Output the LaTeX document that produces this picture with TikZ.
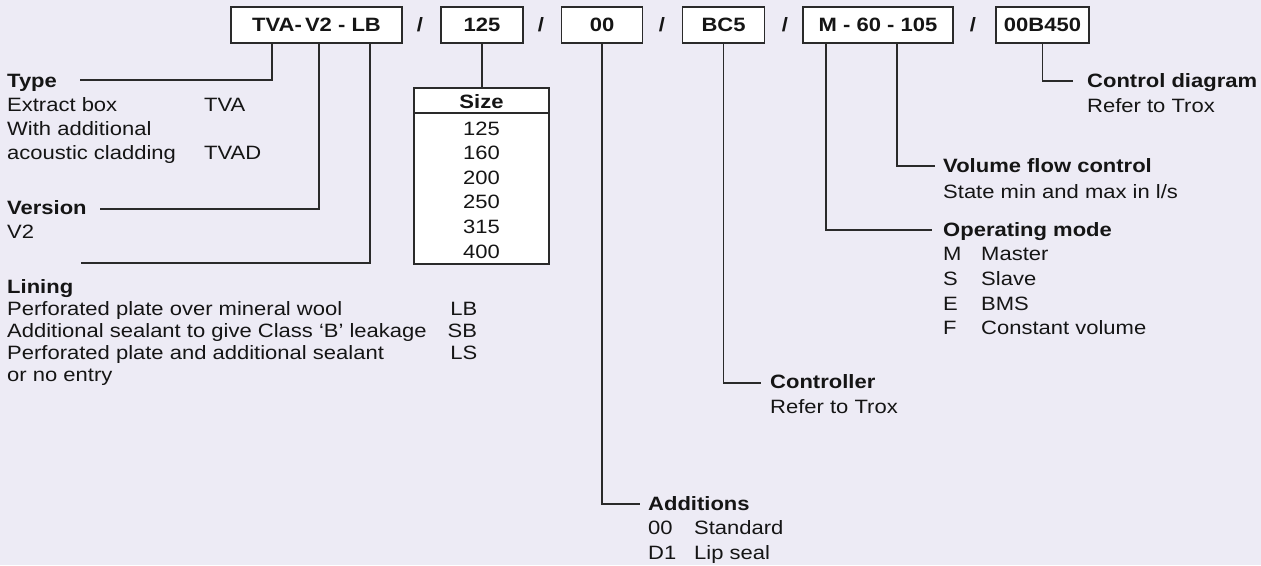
\documentclass[tikz,border=0pt]{standalone}
\usepackage{fontspec}
\setmainfont[FakeStretch=1.14]{Liberation Sans}
\usepackage{array}
\definecolor{bg}{HTML}{EDEBF5}
\definecolor{ink}{HTML}{151515}
\definecolor{wire}{HTML}{2A2A2A}
\newcommand{\fs}[1]{\fontsize{19.3}{#1}\selectfont}
\begin{document}
\begin{tikzpicture}[x=1pt,y=-1pt,
  codebox/.style={draw=wire, line width=1.3pt, fill=white, minimum height=36pt, inner sep=0pt, font=\bfseries\fs{22}, text=ink},
  slash/.style={inner sep=0pt, font=\bfseries\fs{22}, text=ink},
  conn/.style={draw=wire, line width=1.1pt},
  txt/.style={anchor=base west, inner sep=0pt, text=ink, align=left}]
\fill[bg] (0,0) rectangle (1261,565);
\useasboundingbox (0,0) rectangle (1261,565);

% code boxes
\node[codebox, minimum width=171pt] (box1) at (316.5,25) {TVA-\,V2 - LB};
\node[slash] (sl1) at (420,25) {/};
\node[codebox, minimum width=82pt] (box2) at (482,25) {125};
\node[slash] (sl2) at (541,25) {/};
\node[codebox, minimum width=81pt] (box3) at (602,25) {00};
\node[slash] (sl3) at (662,25) {/};
\node[codebox, minimum width=82pt] (box4) at (723.5,25) {BC5};
\node[slash] (sl4) at (785,25) {/};
\node[codebox, minimum width=150pt] (box5) at (878,25) {M - 60 - 105};
\node[slash] (sl5) at (973,25) {/};
\node[codebox, minimum width=93pt] (box6) at (1042.5,25) {00B450};

% size table
\node[draw=wire, line width=1.3pt, fill=white, minimum width=135pt, minimum height=176pt, inner sep=0pt] (sizetab) at (481.5,176) {};
\draw[wire, line width=2.6pt] (sizetab.west |- 0,113) -- (sizetab.east |- 0,113);
\node[anchor=base, inner sep=0pt, text=ink] (sizetxt) at (481.5,108)
  {\fs{24.6}\begin{tabular}[t]{@{}c@{}}\textbf{Size}\\[2.4pt]125\\160\\200\\250\\315\\400\end{tabular}};

% left text blocks
\node[txt] (type) at (7,87) {\fs{24}\begin{tabular}[t]{@{}p{197pt}@{}l@{}}
  \multicolumn{2}{@{}l@{}}{\textbf{Type}}\\
  Extract box & TVA\\
  With additional & \\
  acoustic cladding & TVAD
\end{tabular}};
\node[txt] (version) at (7,214) {\fs{24}\begin{tabular}[t]{@{}l@{}}
  \textbf{Version}\\ V2
\end{tabular}};
\node[txt] (lining) at (7,293) {\fs{22}\begin{tabular}[t]{@{}p{440pt}@{}>{\raggedleft\arraybackslash}p{30pt}@{}}
  \multicolumn{2}{@{}l@{}}{\textbf{Lining}}\\
  Perforated plate over mineral wool & LB\\
  Additional sealant to give Class ‘B’ leakage & SB\\
  Perforated plate and additional sealant & LS\\
  or no entry &
\end{tabular}};

% right text blocks
\node[txt] (additions) at (648,510) {\fs{24.5}\begin{tabular}[t]{@{}p{46pt}@{}l@{}}
  \multicolumn{2}{@{}l@{}}{\textbf{Additions}}\\
  00 & Standard\\
  D1 & Lip seal
\end{tabular}};
\node[txt] (controller) at (770,388) {\fs{25}\begin{tabular}[t]{@{}l@{}}
  \textbf{Controller}\\ Refer to Trox
\end{tabular}};
\node[txt] (opmode) at (943,236) {\fs{24.7}\begin{tabular}[t]{@{}p{38pt}@{}l@{}}
  \multicolumn{2}{@{}l@{}}{\textbf{Operating mode}}\\
  M & Master\\
  S & Slave\\
  E & BMS\\
  F & Constant volume
\end{tabular}};
\node[txt] (volume) at (943,172) {\fs{26}\begin{tabular}[t]{@{}l@{}}
  \textbf{Volume flow control}\\ State min and max in l/s
\end{tabular}};
\node[txt] (ctrldiag) at (1087,87) {\fs{25}\begin{tabular}[t]{@{}l@{}}
  \textbf{Control diagram}\\ Refer to Trox
\end{tabular}};

% stem positions and free ends
\coordinate (sType) at (272,0);
\coordinate (sVer) at (319,0);
\coordinate (sLin) at (370,0);
\coordinate (sOp) at (826,0);
\coordinate (sVol) at (897,0);
\coordinate (eType) at (80,80);
\coordinate (eVer) at (100,209);
\coordinate (eLin) at (81,263);
\coordinate (eAdd) at (640,504);
\coordinate (eCtl) at (761,383);
\coordinate (eOp) at (932,230);
\coordinate (eVol) at (935,166);
\coordinate (eDia) at (1073,81);

% connectors
\draw[conn] (box1.south -| sType) |- (eType);
\draw[conn] (box1.south -| sVer) |- (eVer);
\draw[conn] (box1.south -| sLin) |- (eLin);
\draw[conn] (box2.south) -- (box2.south |- sizetab.north);
\draw[conn] (box3.south) |- (eAdd);
\draw[conn] (box4.south) |- (eCtl);
\draw[conn] (box5.south -| sOp) |- (eOp);
\draw[conn] (box5.south -| sVol) |- (eVol);
\draw[conn] (box6.south) |- (eDia);
\end{tikzpicture}
\end{document}
